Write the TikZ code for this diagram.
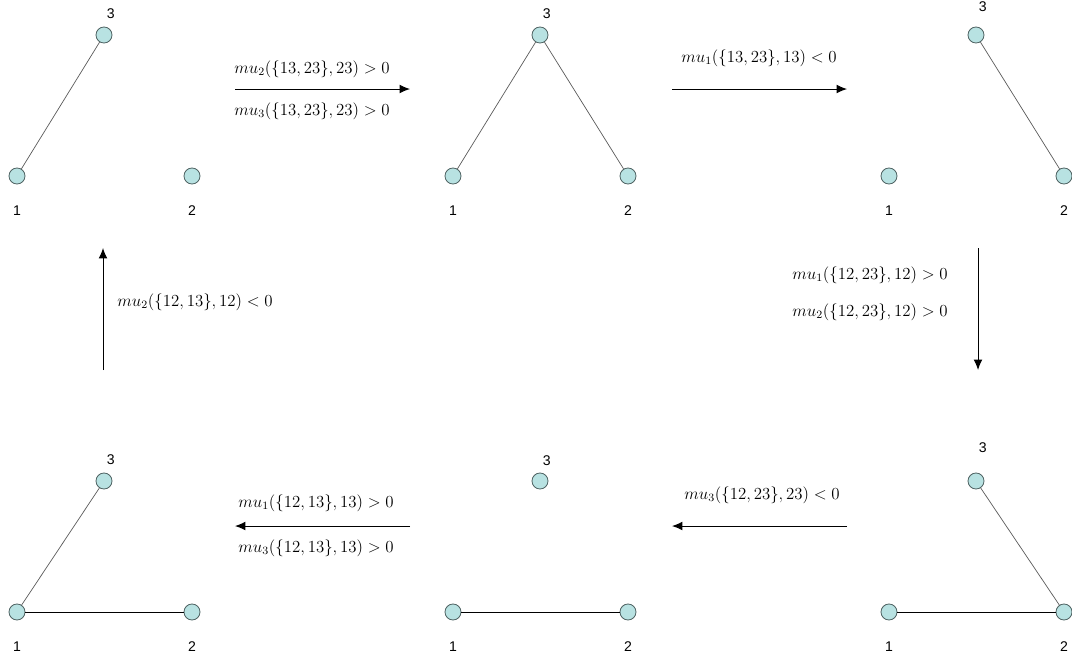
\documentclass[tikz,border=0pt]{standalone}
\usepackage{fontspec}
\newfontfamily\numfont{Liberation Sans}
\usetikzlibrary{positioning,arrows,arrows.meta}

\definecolor{vfill}{RGB}{184,226,226}
\definecolor{vline}{RGB}{80,100,100}
\definecolor{eline}{RGB}{90,90,90}

\tikzset{
	vert/.style={circle,draw=vline,fill=vfill,line width=0.6pt,minimum size=0.4cm,inner sep=0pt},
	lo/.style={label={[label distance=0.4cm,font=\numfont]below:#1}},
	hi/.style={label={[label distance=#1,xshift=0.17cm,font=\numfont]above:3}},
	edge/.style={line width=0.5pt,color=eline},
	move/.style={-{Latex[length=2.6mm,width=2.2mm]},line width=0.7pt},
	cond/.style={font=\fontsize{11.5}{13}\selectfont,inner sep=1pt}
}

\begin{document}
\begin{tikzpicture}[x=0.025cm,y=-0.025cm]
\useasboundingbox (0,0) rectangle (1072,660);

% the six graphs: name/x of node 1/y of nodes 1,2/y of node 3/x of node 2/gap above 3
\foreach \g/\x/\y/\z/\w/\d in {a/17/176/35/192/0.08cm,b/453/176/35/628/0.08cm,c/889/176/35/1064/0.24cm,
                             d/889/612/481/1064/0.38cm,e/453/612/481/628/0.06cm,f/17/612/481/192/0.08cm}{
		\node[vert,lo=1] (\g1) at (\x,\y) {};
		\node[vert,lo=2] (\g2) at (\w,\y) {};
		\node[vert,hi=\d] (\g3) at (\x+87,\z) {};
}

\foreach \x/\y in {a1/a3,b1/b3,b2/b3,c2/c3,d2/d3,f1/f3}
	\draw[edge](\x)--(\y);
\foreach \x/\y in {d1/d2,e1/e2,f1/f2}
	\draw[line width=0.6pt](\x)--(\y);

% transitions
\coordinate (p1) at (235,89);  \coordinate (q1) at (410,89);
\coordinate (p2) at (672,89);  \coordinate (q2) at (847,89);
\coordinate (p3) at (978,248); \coordinate (q3) at (978,370);
\coordinate (p4) at (847,526); \coordinate (q4) at (672,526);
\coordinate (p5) at (410,526); \coordinate (q5) at (235,526);
\coordinate (p6) at (103,370); \coordinate (q6) at (103,248);

\foreach \i in {1,...,6}
	\draw[move](p\i)--(q\i);

\node[cond] (t1a) at (312,69) {$mu_2(\{13,23\},23)>0$};
\node[cond] (t1b) at (312,111) {$mu_3(\{13,23\},23)>0$};
\node[cond] (t2)  at (759,58) {$mu_1(\{13,23\},13)<0$};
\node[cond] (t3a) at (870,275) {$mu_1(\{12,23\},12)>0$};
\node[cond] (t3b) at (870,312) {$mu_2(\{12,23\},12)>0$};
\node[cond] (t4)  at (762,495) {$mu_3(\{12,23\},23)<0$};
\node[cond] (t5a) at (316,503) {$mu_1(\{12,13\},13)>0$};
\node[cond] (t5b) at (316,548) {$mu_3(\{12,13\},13)>0$};
\node[cond] (t6)  at (195,302) {$mu_2(\{12,13\},12)<0$};

\end{tikzpicture}
\end{document}
